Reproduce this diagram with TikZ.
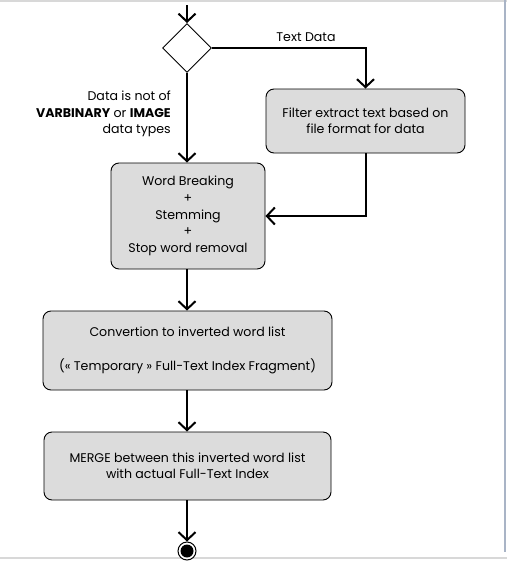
\documentclass[tikz,border=0pt]{standalone}
\usepackage{fontspec}
\setmainfont{Poppins}
\usetikzlibrary{arrows.meta,shapes.geometric}
\definecolor{boxfill}{HTML}{DCDCDC}
\definecolor{framegray}{HTML}{D8D8D8}
\definecolor{frameblue}{HTML}{A9B4C6}
\begin{document}
\begin{tikzpicture}[x=1pt,y=-1pt,
  actbox/.style={draw=black,line width=0.9pt,fill=boxfill,rounded corners=8pt,inner sep=0pt,align=center,font=\fontsize{12.6}{16.5}\selectfont},
  flow/.style={line width=2pt,-{Straight Barb[length=8pt,width=17pt,line width=2pt]}},
  lbl/.style={font=\fontsize{12.6}{16.5}\selectfont,inner sep=0pt}]
\useasboundingbox (0,0) rectangle (507,562);
\fill[white] (0,0) rectangle (507,562);
% frame artefacts
\draw[framegray,line width=2pt] (0,1) -- (507,1);
\draw[frameblue,line width=2pt] (505,0) -- (505,552);
\draw[framegray,line width=2pt] (0,558) -- (507,558);
% nodes
\coordinate (start) at (187,5);
\node[draw=black,line width=0.9pt,diamond,minimum width=49pt,minimum height=49pt,inner sep=0pt,fill=white] (dec) at (187,48) {};
\node[actbox,minimum width=199pt,minimum height=64pt] (filter) at (365.5,121) {Filter extract text based on\\file format for data};
\node[actbox,minimum width=154pt,minimum height=106pt,font=\fontsize{12.6}{16.7}\selectfont] (word) at (188,216) {Word Breaking\\+\\Stemming\\+\\Stop word removal};
\node[actbox,minimum width=289pt,minimum height=79pt,font=\fontsize{12.6}{34}\selectfont] (conv) at (187.5,350.5) {Convertion to inverted word list\\(« Temporary » Full-Text Index Fragment)};
\node[actbox,minimum width=287pt,minimum height=68pt] (merge) at (187.5,466) {MERGE between this inverted word list\\with actual Full-Text Index};
\node[circle,draw=black,line width=1pt,minimum size=18pt,inner sep=0pt,fill=white] (final) at (187,551) {};
\fill[black] (final.center) circle (6.5pt);
% labels
\node[lbl,anchor=south] (tdl) at (306,42) {Text Data};
\node[lbl,anchor=east,align=right] (dtl) at (171,114) {Data is not of\\\textbf{VARBINARY} or \textbf{IMAGE}\\data types};
% connectors
\draw[flow] (start) -- (dec.north);
\draw[flow] (dec.east) -| (filter.north);
\draw[flow] (dec.south) -- (dec.south |- word.north);
\draw[flow] (filter.south) |- (word.east);
\draw[flow] (word.south -| dec.south) -- (dec.south |- conv.north);
\draw[flow] (dec.south |- conv.south) -- (dec.south |- merge.north);
\draw[flow] (dec.south |- merge.south) -- (final.north);
\end{tikzpicture}
\end{document}
